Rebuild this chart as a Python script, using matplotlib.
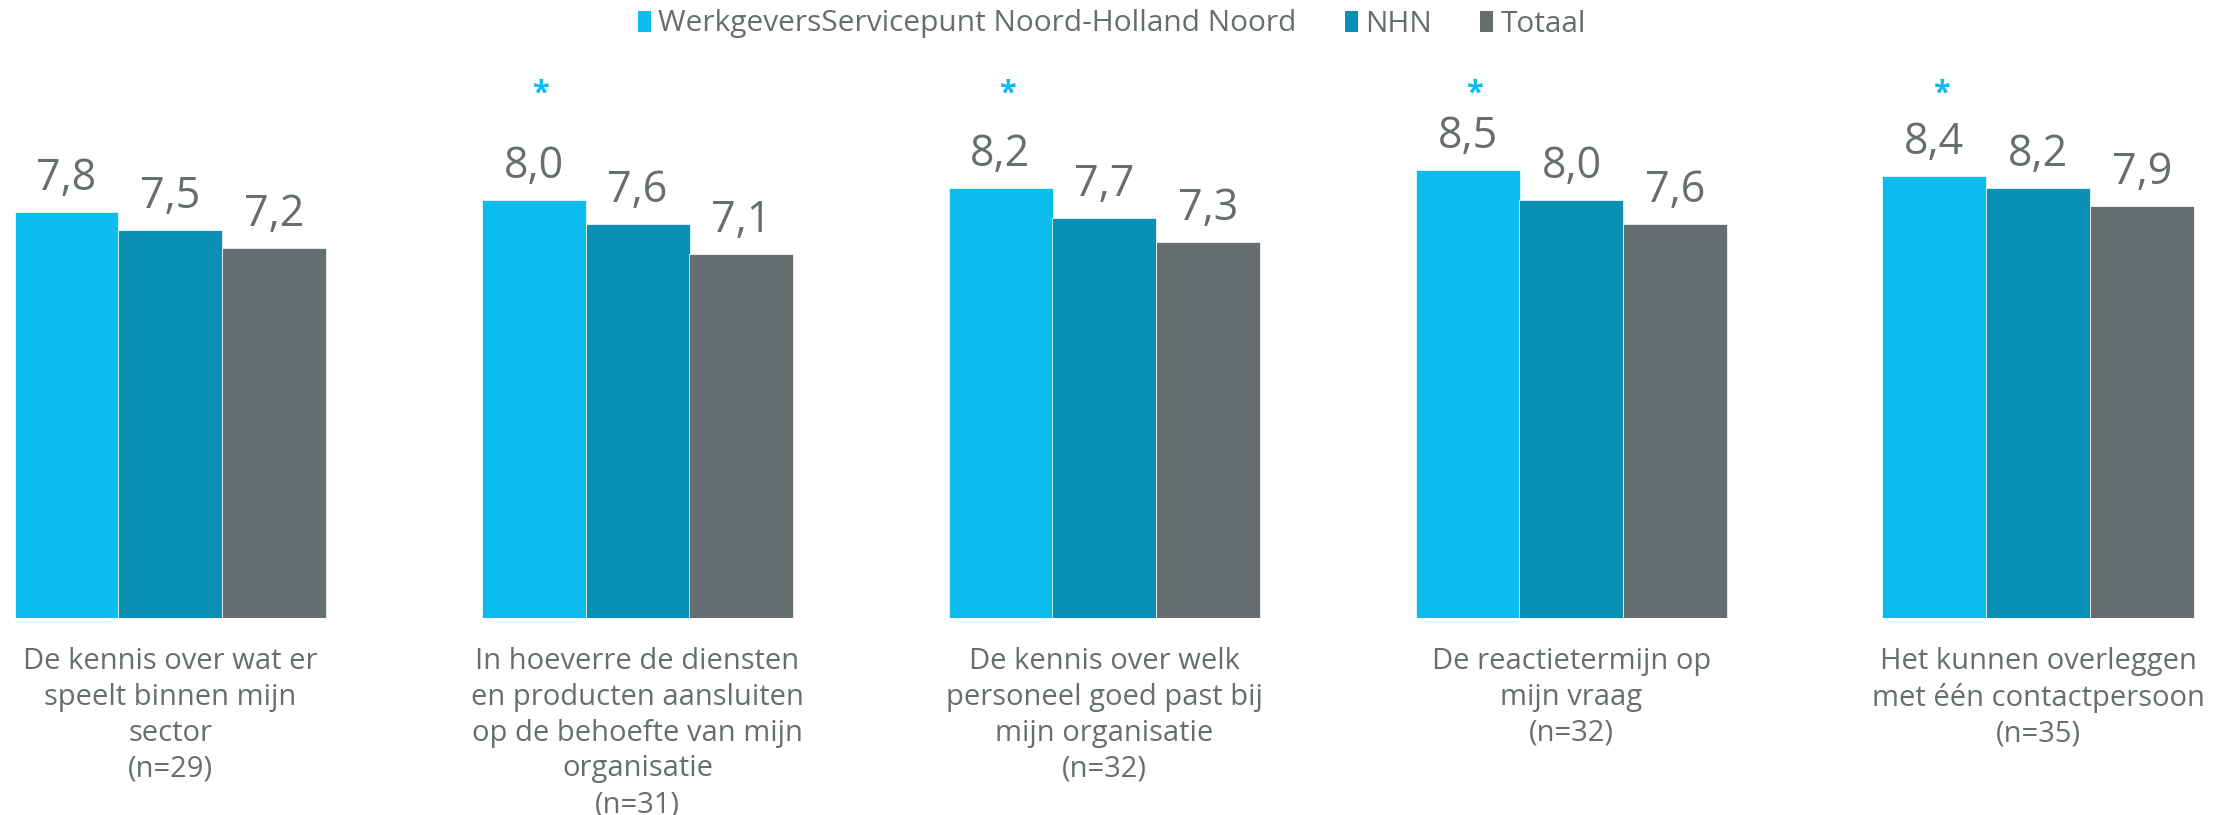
import numpy as np
import matplotlib.pyplot as plt
from matplotlib.patches import Patch

# Data
categories = [
    "De kennis over wat er\nspeelt binnen mijn\nsector\n(n=29)",
    "In hoeverre de diensten\nen producten aansluiten\nop de behoefte van mijn\norganisatie\n(n=31)",
    "De kennis over welk\npersoneel goed past bij\nmijn organisatie\n(n=32)",
    "De reactietermijn op\nmijn vraag\n(n=32)",
    "Het kunnen overleggen\nmet één contactpersoon\n(n=35)",
]
series_names = ["WerkgeversServicepunt Noord-Holland Noord", "NHN", "Totaal"]
wsp = [7.8, 8.0, 8.2, 8.5, 8.4]
nhn = [7.5, 7.6, 7.7, 8.0, 8.2]
totaal = [7.2, 7.1, 7.3, 7.6, 7.9]
significant = [False, True, True, True, True]

colors = ["#0DBCEE", "#0A8FB5", "#676E70"]
text_color = "#666E70"

plt.rcParams["font.family"] = ["Open Sans", "DejaVu Sans"]

fig = plt.figure(figsize=[22.24, 8.15], dpi=100)
ax = fig.add_axes([0, 1 - 618 / 815, 1, 618 / 815])

x = np.arange(len(categories))
w = 104 / 467

for j, vals in enumerate([wsp, nhn, totaal]):
    xs = x + (j - 1) * w
    ax.bar(xs, vals, width=w, bottom=0, color=colors[j], edgecolor="white", linewidth=0.5)
    for xi, v in zip(xs, vals):
        ax.annotate(f"{v:.1f}".replace(".", ","), (xi, v), xytext=(0, 22),
                    textcoords="offset pixels", ha="center", va="baseline",
                    fontsize=31, color=text_color)

# significance stars
for xi, s in zip(x, significant):
    if s:
        ax.text(xi - w + 0.015, 0.835, "*", transform=ax.get_xaxis_transform(),
                ha="center", va="baseline", fontsize=22, color=colors[0],
                fontweight="bold")

# category labels below bars
for xi, lab in zip(x, categories):
    ax.annotate(lab, (xi, 1), xytext=(0, -29), textcoords="offset pixels",
                ha="center", va="top", fontsize=21, color=text_color,
                linespacing=1.31, annotation_clip=False)

ax.set_xlim(-170.5 / 467, (2224 - 170.5) / 467)
ax.set_ylim(1, 1 + 618 / 59.7)
ax.axis("off")

handles = [Patch(facecolor=c, edgecolor="none") for c in colors]
fig.legend(handles, series_names, loc="center", bbox_to_anchor=(0.5, 1 - 24 / 815),
           ncol=3, frameon=False, fontsize=21.5, labelcolor=text_color,
           handlelength=0.45, handleheight=0.7, handletextpad=0.25,
           columnspacing=1.6)

fig.savefig("out.png", dpi=100)
